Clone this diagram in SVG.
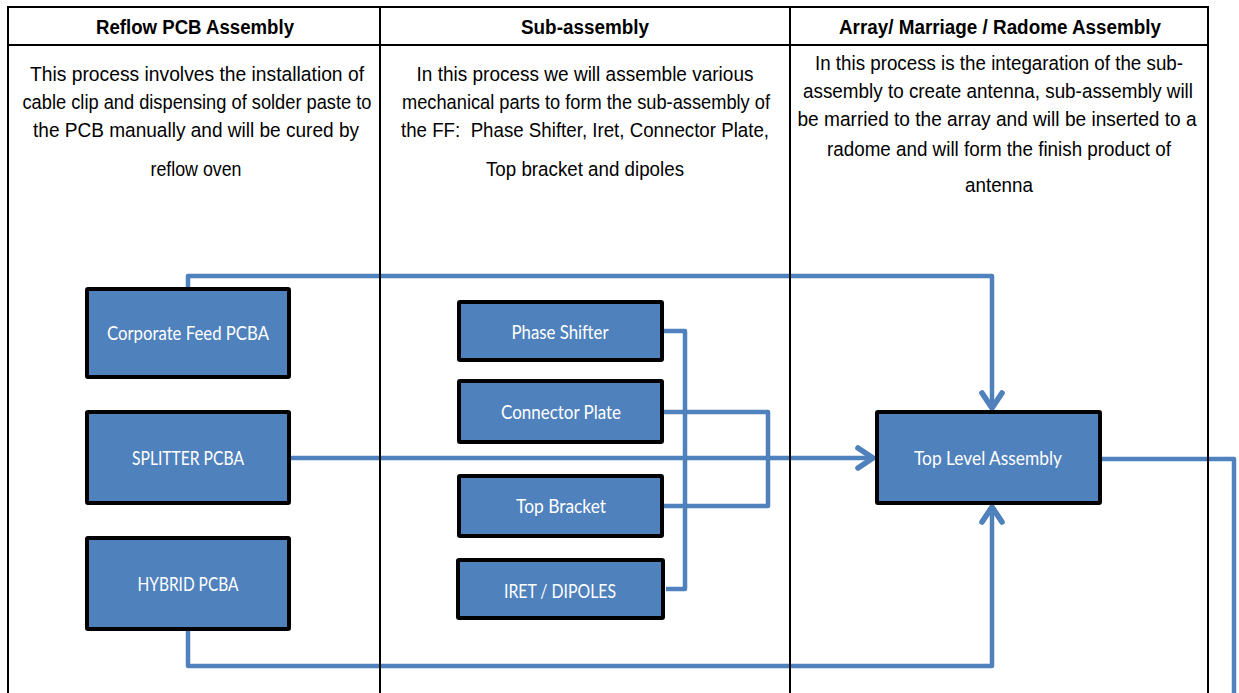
<svg xmlns="http://www.w3.org/2000/svg" width="1239" height="693" viewBox="0 0 1239 693">
  <defs>
    <style>
      .grid { stroke: #000; stroke-width: 2; fill: none; }
      .hdr { font-family: "Liberation Sans", Arial, sans-serif; font-weight: bold; font-size: 19.5px; fill: #000; text-anchor: middle; }
      .body { font-family: "Liberation Sans", Arial, sans-serif; font-size: 20.5px; fill: #000; text-anchor: middle; }
      .box { fill: #4F81BD; stroke: #000; stroke-width: 4; }
      .lbl { font-family: Lato, "Liberation Sans", sans-serif; font-size: 18.5px; fill: #fff; text-anchor: middle; }
      .conn { fill: none; stroke: #4F81BD; stroke-width: 4.5; stroke-linejoin: round; }
    </style>
    <marker id="arrow" markerUnits="userSpaceOnUse" markerWidth="30" markerHeight="30" refX="0" refY="0" viewBox="-16 -12 20 24" orient="auto" overflow="visible">
      <path d="M-12,-8 L0,0 L-12,8" fill="none" stroke="#4F81BD" stroke-width="4.5" stroke-linecap="round" stroke-linejoin="round"/>
    </marker>
  </defs>
  <rect width="1239" height="693" fill="#fff"/>

  <g id="connectors">
    <path class="conn" d="M188,288 V276 H992 V408" marker-end="url(#arrow)"/>
    <path class="conn" d="M291,458 H873" marker-end="url(#arrow)"/>
    <path class="conn" d="M188,631 V666 H992 V507" marker-end="url(#arrow)"/>
    <path class="conn" d="M1102,459 H1234 V700"/>
    <path class="conn" d="M664,331 H685 V589 H666"/>
    <path class="conn" d="M664,412 H768 V506 H664"/>
  </g>

  <g id="table">
    <path class="grid" d="M8,700 V7 H1208 V700 M8,45 H1208 M380,7 V700 M790,7 V700"/>
    <text class="hdr" x="195" y="34" textLength="198" lengthAdjust="spacingAndGlyphs">Reflow PCB Assembly</text>
    <text class="hdr" x="585" y="34" textLength="128" lengthAdjust="spacingAndGlyphs">Sub-assembly</text>
    <text class="hdr" x="1000" y="34" textLength="322" lengthAdjust="spacingAndGlyphs">Array/ Marriage / Radome Assembly</text>

    <text class="body" x="197" y="81" textLength="334" lengthAdjust="spacingAndGlyphs">This process involves the installation of</text>
    <text class="body" x="197" y="109" textLength="349" lengthAdjust="spacingAndGlyphs">cable clip and dispensing of solder paste to</text>
    <text class="body" x="196" y="137" textLength="326" lengthAdjust="spacingAndGlyphs">the PCB manually and will be cured by</text>
    <text class="body" x="196" y="176" textLength="91" lengthAdjust="spacingAndGlyphs">reflow oven</text>

    <text class="body" x="585" y="81" textLength="337" lengthAdjust="spacingAndGlyphs">In this process we will assemble various</text>
    <text class="body" x="586" y="109" textLength="368" lengthAdjust="spacingAndGlyphs">mechanical parts to form the sub-assembly of</text>
    <text class="body" x="585" y="137" textLength="368" lengthAdjust="spacingAndGlyphs" xml:space="preserve">the FF:  Phase Shifter, Iret, Connector Plate,</text>
    <text class="body" x="585" y="176" textLength="198" lengthAdjust="spacingAndGlyphs">Top bracket and dipoles</text>

    <text class="body" x="999" y="70" textLength="368" lengthAdjust="spacingAndGlyphs">In this process is the integaration of the sub-</text>
    <text class="body" x="998" y="98" textLength="390" lengthAdjust="spacingAndGlyphs">assembly to create antenna, sub-assembly will</text>
    <text class="body" x="997" y="126" textLength="399" lengthAdjust="spacingAndGlyphs">be married to the array and will be inserted to a</text>
    <text class="body" x="999" y="156" textLength="344" lengthAdjust="spacingAndGlyphs">radome and will form the finish product of</text>
    <text class="body" x="999" y="192" textLength="68" lengthAdjust="spacingAndGlyphs">antenna</text>
  </g>

  <g id="node-corporate-feed">
    <rect class="box" x="87" y="289" width="202" height="88" rx="1"/>
    <text class="lbl" x="188" y="340" textLength="162" lengthAdjust="spacingAndGlyphs">Corporate Feed PCBA</text>
  </g>
  <g id="node-splitter">
    <rect class="box" x="87" y="412" width="202" height="91" rx="1"/>
    <text class="lbl" x="188" y="465" textLength="112" lengthAdjust="spacingAndGlyphs">SPLITTER PCBA</text>
  </g>
  <g id="node-hybrid">
    <rect class="box" x="87" y="538" width="202" height="91" rx="1"/>
    <text class="lbl" x="188" y="591" textLength="101" lengthAdjust="spacingAndGlyphs">HYBRID PCBA</text>
  </g>
  <g id="node-phase-shifter">
    <rect class="box" x="459" y="302" width="203" height="58" rx="1"/>
    <text class="lbl" x="560" y="339" textLength="97" lengthAdjust="spacingAndGlyphs">Phase Shifter</text>
  </g>
  <g id="node-connector-plate">
    <rect class="box" x="459" y="381" width="203" height="61" rx="1"/>
    <text class="lbl" x="561" y="419" textLength="120" lengthAdjust="spacingAndGlyphs">Connector Plate</text>
  </g>
  <g id="node-top-bracket">
    <rect class="box" x="459" y="476" width="203" height="60" rx="1"/>
    <text class="lbl" x="561" y="513" textLength="90" lengthAdjust="spacingAndGlyphs">Top Bracket</text>
  </g>
  <g id="node-iret-dipoles">
    <rect class="box" x="458" y="560" width="205" height="58" rx="1"/>
    <text class="lbl" x="560" y="598" textLength="112" lengthAdjust="spacingAndGlyphs">IRET / DIPOLES</text>
  </g>
  <g id="node-top-level">
    <rect class="box" x="877" y="412" width="223" height="91" rx="1"/>
    <text class="lbl" x="988" y="465" textLength="148" lengthAdjust="spacingAndGlyphs">Top Level Assembly</text>
  </g>
</svg>
